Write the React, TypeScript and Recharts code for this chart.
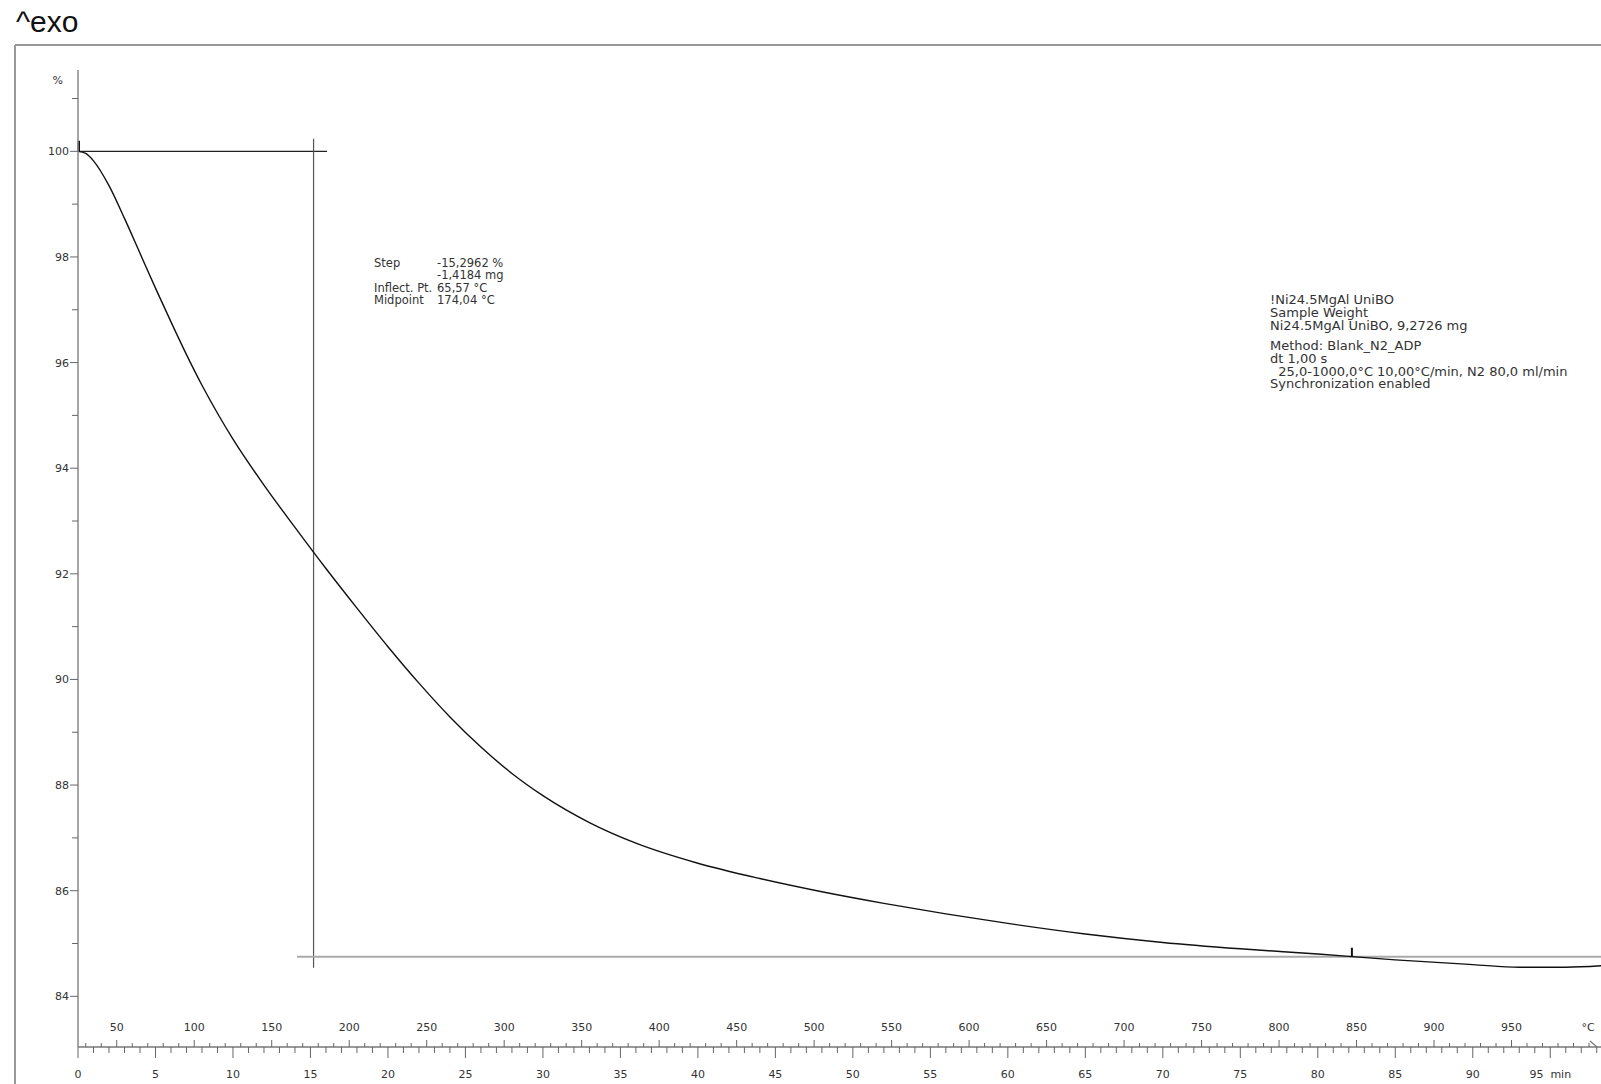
import React from 'react';
import { LineChart, Line, XAxis, YAxis, ReferenceLine } from 'recharts';

// TGA curve: time (min) vs mass (%)
const timeMin = [0, 0.5, 1, 2, 3, 4, 5, 6, 7, 8, 9, 10, 12, 14, 16, 18, 20, 22, 24, 26, 28, 30, 33, 36, 40, 44, 48, 52, 56, 60, 65, 70, 75, 80, 85, 90, 93, 96, 98.4];
const massPct = [100.0, 99.96, 99.82, 99.35, 98.73, 98.07, 97.41, 96.77, 96.15, 95.57, 95.04, 94.55, 93.68, 92.88, 92.1, 91.35, 90.62, 89.93, 89.29, 88.72, 88.22, 87.8, 87.29, 86.9, 86.52, 86.23, 85.98, 85.76, 85.56, 85.38, 85.18, 85.02, 84.9, 84.8, 84.69, 84.6, 84.55, 84.55, 84.58];

const yTicks = [84, 85, 86, 87, 88, 89, 90, 91, 92, 93, 94, 95, 96, 97, 98, 99, 100, 101];
const timeLabels = [0, 5, 10, 15, 20, 25, 30, 35, 40, 45, 50, 55, 60, 65, 70, 75, 80, 85, 90, 95];
const tempLabels = [50, 100, 150, 200, 250, 300, 350, 400, 450, 500, 550, 600, 650, 700, 750, 800, 850, 900, 950];

// step evaluation lines
const stepTime = 15.2;
const startLevel = 100;
const endLevel = 84.75;

const data = timeMin.map((t, i) => ({ t, v: massPct[i] }));

// minute ticks below the axis, half-minute ticks above (temperature = 25 + 10 * t)
const xTicks: number[] = [];
for (let i = 0; i <= 98; i++) {
    xTicks.push(i);
    if (i < 98) xTicks.push(i + 0.5);
}

const FONT = '"DejaVu Sans", Verdana, sans-serif';
const TXT = '#333';

function XTick(props: any) {
    const { x, y, payload } = props;
    const t = payload.value;
    if (t % 1 !== 0) {
        const temp = Math.round(25 + 10 * t);
        const major = tempLabels.includes(temp);
        return (
            <g>
                <line x1={x} x2={x} y1={y} y2={y - (major ? 7 : 4)} stroke="#666" />
                {major && (
                    <text x={x} y={y - 16} textAnchor="middle" fontSize={11} fontFamily={FONT} fill={TXT}>{temp}</text>
                )}
            </g>
        );
    }
    const major = timeLabels.includes(t);
    const last = t === timeLabels[timeLabels.length - 1];
    return (
        <g>
            <line x1={x} x2={x} y1={y} y2={y + (major ? 11 : 6)} stroke="#666" />
            {major && (
                <text x={x} y={y + 31} textAnchor="middle" fontSize={11} fontFamily={FONT} fill={TXT} style={{ whiteSpace: 'pre' }}>
                    {last ? `${t}  min` : t}
                </text>
            )}
        </g>
    );
}

function YTick(props: any) {
    const { x, y, payload } = props;
    const v = payload.value;
    const major = v % 2 === 0;
    return (
        <g>
            <line x1={x - (major ? 8 : 6)} x2={x} y1={y} y2={y} stroke="#666" />
            {major && (
                <text x={x - 9} y={y + 4} textAnchor="end" fontSize={11} fontFamily={FONT} fill={TXT}>{v}</text>
            )}
        </g>
    );
}

const stepRows = [
    ['Step', '-15,2962 %'],
    ['', '-1,4184 mg'],
    ['Inflect. Pt.', '65,57 °C'],
    ['Midpoint', '174,04 °C'],
];
const sampleRows = ['!Ni24.5MgAl UniBO', 'Sample Weight', 'Ni24.5MgAl UniBO, 9,2726 mg'];
const methodRows = ['Method: Blank_N2_ADP', 'dt 1,00 s', '  25,0-1000,0°C 10,00°C/min, N2 80,0 ml/min', 'Synchronization enabled'];

export default function App() {
    return (
        <div style={{ position: 'absolute', left: 0, top: 0, width: 1601, height: 1084, overflow: 'hidden', background: '#fff' }}>
            <div style={{ position: 'absolute', left: 0, top: 0 }}>
                <LineChart width={1620} height={1084} data={data} margin={{ top: 70, right: 0, bottom: 0, left: 0 }}>
                    <XAxis
                        dataKey="t"
                        type="number"
                        domain={[0, 99.5]}
                        ticks={xTicks}
                        interval={0}
                        tick={<XTick />}
                        tickLine={false}
                        tickSize={0}
                        tickMargin={0}
                        height={37}
                        axisLine={{ stroke: '#999', strokeWidth: 2 }}
                        allowDataOverflow
                    />
                    <YAxis
                        type="number"
                        domain={[83.04, 101.54]}
                        ticks={yTicks}
                        interval={0}
                        tick={<YTick />}
                        tickLine={false}
                        tickSize={0}
                        tickMargin={0}
                        width={78}
                        axisLine={{ stroke: '#888', strokeWidth: 1.5 }}
                        allowDataOverflow
                    />
                    <ReferenceLine segment={[{ x: 0, y: startLevel }, { x: 16.07, y: startLevel }]} stroke="#222" strokeWidth={1.2} ifOverflow="visible" />
                    <ReferenceLine segment={[{ x: stepTime, y: 100.24 }, { x: stepTime, y: 84.54 }]} stroke="#555" strokeWidth={1.2} ifOverflow="visible" />
                    <ReferenceLine segment={[{ x: 14.13, y: endLevel }, { x: 99.5, y: endLevel }]} stroke="#aaa" strokeWidth={2} ifOverflow="visible" />
                    <ReferenceLine segment={[{ x: 82.2, y: endLevel }, { x: 82.2, y: endLevel + 0.17 }]} stroke="#111" strokeWidth={2} ifOverflow="visible" />
                    <ReferenceLine segment={[{ x: 0.05, y: 100.0 }, { x: 0.05, y: 100.2 }]} stroke="#111" strokeWidth={2.5} ifOverflow="visible" />
                    <Line type="monotone" dataKey="v" stroke="#111" strokeWidth={1.4} dot={false} isAnimationActive={false} />
                </LineChart>
            </div>
            <svg width={1601} height={1084} style={{ position: 'absolute', left: 0, top: 0, pointerEvents: 'none' }}>
                <text x={16} y={32} fontSize={30} fontFamily='"Liberation Sans", Arial, sans-serif' fill="#111">^exo</text>
                <line x1={15} y1={45} x2={1601} y2={45} stroke="#999" strokeWidth={2} />
                <line x1={15} y1={45} x2={15} y2={1084} stroke="#999" strokeWidth={2} />
                <text x={63} y={84} textAnchor="end" fontSize={11} fontFamily={FONT} fill={TXT}>%</text>
                <text x={1588} y={1031} textAnchor="middle" fontSize={11} fontFamily={FONT} fill={TXT}>°C</text>
                <line x1={1590} y1={1041} x2={1597} y2={1047} stroke="#777" strokeWidth={1.2} />
                {stepRows.map((r, i) => (
                    <g key={i}>
                        <text x={374} y={267 + i * 12.3} fontSize={11.5} fontFamily={FONT} fill={TXT}>{r[0]}</text>
                        <text x={437} y={267 + i * 12.3} fontSize={11.5} fontFamily={FONT} fill={TXT}>{r[1]}</text>
                    </g>
                ))}
                {sampleRows.map((r, i) => (
                    <text key={i} x={1270} y={304 + i * 12.8} fontSize={13} fontFamily={FONT} fill={TXT}>{r}</text>
                ))}
                {methodRows.map((r, i) => (
                    <text key={i} x={1270} y={350 + i * 12.8} fontSize={13} fontFamily={FONT} fill={TXT} style={{ whiteSpace: 'pre' }}>{r}</text>
                ))}
            </svg>
        </div>
    );
}
